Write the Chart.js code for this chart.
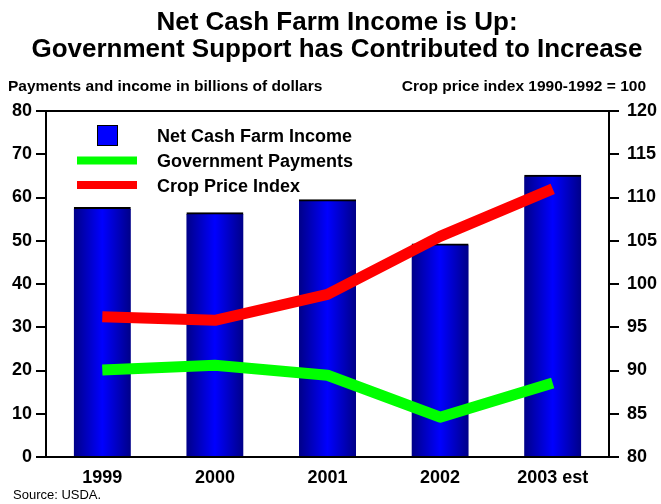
<!DOCTYPE html>
<html>
<head>
<meta charset="utf-8">
<script src="https://cdn.jsdelivr.net/npm/chart.js@4"></script>
<style>
  html, body { margin: 0; padding: 0; background: #fff; }
  #wrap { width: 661px; height: 504px; }
</style>
</head>
<body>
<div id="wrap"><canvas id="chart" width="661" height="504"></canvas></div>
<script>
// datos del grafico
const categorias = ['1999', '2000', '2001', '2002', '2003 est'];
const ingresoNeto = [57.7, 56.5, 59.5, 49.3, 65.2];
const pagosGobierno = [20.1, 21.2, 18.9, 9.2, 17.1];
const indicePrecios = [96.2, 95.8, 98.8, 105.5, 111.0];
const ticksIzq = [0, 10, 20, 30, 40, 50, 60, 70, 80];
const ticksDer = [80, 85, 90, 95, 100, 105, 110, 115, 120];

const FUENTE = '"Liberation Sans", Arial, sans-serif';

// degradado horizontal de cada barra
function colorBarra(ctx) {
  const chart = ctx.chart;
  const xs = chart.scales.x;
  if (!xs || ctx.dataIndex === undefined) return '#0000ff';
  const cx = xs.getPixelForValue(ctx.dataIndex);
  if (!isFinite(cx)) return '#0000ff';
  const g = chart.ctx.createLinearGradient(cx - 28.5, 0, cx + 28.5, 0);
  g.addColorStop(0, '#000088');
  g.addColorStop(0.5, '#0000ff');
  g.addColorStop(1, '#000088');
  return g;
}

// textos, marco superior y leyenda
const textos = {
  id: 'textos',
  afterDraw(chart) {
    const c = chart.ctx;
    const a = chart.chartArea;
    c.save();
    c.fillStyle = '#000';
    c.textBaseline = 'middle';
    c.textAlign = 'center';
    c.font = 'bold 26px ' + FUENTE;
    c.fillText('Net Cash Farm Income is Up:', 337, 23);
    c.fillText('Government Support has Contributed to Increase', 337, 50);

    c.font = 'bold 15.5px ' + FUENTE;
    c.textAlign = 'left';
    c.fillText('Payments and income in billions of dollars', 8, 87);
    c.textAlign = 'right';
    c.fillText('Crop price index 1990-1992 = 100', 646, 87);

    c.font = '13px ' + FUENTE;
    c.textAlign = 'left';
    c.fillText('Source: USDA.', 13, 495);

    // marco superior
    c.strokeStyle = '#000';
    c.lineWidth = 2;
    c.beginPath();
    c.moveTo(a.left - 1, a.top);
    c.lineTo(a.right + 1, a.top);
    c.stroke();

    // leyenda
    const ds = chart.data.datasets;
    c.font = 'bold 18px ' + FUENTE;
    c.textAlign = 'left';
    c.fillStyle = '#0000ff';
    c.fillRect(97, 125, 20, 20);
    c.lineWidth = 1;
    c.strokeRect(97.5, 125.5, 20, 20);
    c.fillStyle = '#000';
    c.fillText(ds[2].label, 157, 137);

    c.lineWidth = 8;
    c.lineCap = 'butt';
    c.strokeStyle = ds[0].borderColor;
    c.beginPath(); c.moveTo(77, 160.5); c.lineTo(137, 160.5); c.stroke();
    c.fillText(ds[0].label, 157, 162);

    c.strokeStyle = ds[1].borderColor;
    c.beginPath(); c.moveTo(77, 185); c.lineTo(137, 185); c.stroke();
    c.fillText(ds[1].label, 157, 187);
    c.restore();
  }
};

new Chart(document.getElementById('chart'), {
  type: 'bar',
  data: {
    labels: categorias,
    datasets: [
      {
        type: 'line',
        label: 'Government Payments',
        data: pagosGobierno,
        yAxisID: 'y',
        borderColor: '#00ff00',
        borderWidth: 11,
        borderCapStyle: 'butt',
        borderJoinStyle: 'round',
        pointRadius: 0,
        tension: 0,
        order: 1
      },
      {
        type: 'line',
        label: 'Crop Price Index',
        data: indicePrecios,
        yAxisID: 'y1',
        borderColor: '#ff0000',
        borderWidth: 11,
        borderCapStyle: 'butt',
        borderJoinStyle: 'round',
        pointRadius: 0,
        tension: 0,
        order: 0
      },
      {
        label: 'Net Cash Farm Income',
        data: ingresoNeto,
        yAxisID: 'y',
        backgroundColor: colorBarra,
        borderColor: '#000',
        borderWidth: { top: 2, left: 0, right: 0, bottom: 0 },
        borderSkipped: 'bottom',
        barThickness: 57,
        order: 2
      }
    ]
  },
  options: {
    responsive: false,
    animation: false,
    layout: { padding: { top: 111, bottom: 16, left: 0, right: 0 } },
    plugins: {
      legend: { display: false },
      tooltip: { enabled: false }
    },
    scales: {
      x: {
        type: 'category',
        offset: true,
        afterFit: ax => { ax.height = 31; },
        grid: { drawOnChartArea: false, drawTicks: false },
        border: { display: true, color: '#000', width: 2 },
        ticks: {
          color: '#000',
          padding: 10,
          maxRotation: 0,
          autoSkip: false,
          font: { family: FUENTE, size: 18, weight: 'bold' }
        }
      },
      y: {
        position: 'left',
        min: 0,
        max: 80,
        afterBuildTicks: ax => { ax.ticks = ticksIzq.map(v => ({ value: v })); },
        afterFit: ax => { ax.width = 46; },
        grid: { drawOnChartArea: false, drawTicks: true, tickLength: 10, color: '#000', lineWidth: 2 },
        border: { display: true, color: '#000', width: 2 },
        ticks: {
          color: '#000',
          padding: 4,
          font: { family: FUENTE, size: 18, weight: 'bold' }
        }
      },
      y1: {
        position: 'right',
        min: 80,
        max: 120,
        afterBuildTicks: ax => { ax.ticks = ticksDer.map(v => ({ value: v })); },
        afterFit: ax => { ax.width = 52; },
        grid: { drawOnChartArea: false, drawTicks: true, tickLength: 10, color: '#000', lineWidth: 2 },
        border: { display: true, color: '#000', width: 2 },
        ticks: {
          color: '#000',
          padding: 8,
          font: { family: FUENTE, size: 18, weight: 'bold' }
        }
      }
    }
  },
  plugins: [textos]
});
</script>
</body>
</html>
